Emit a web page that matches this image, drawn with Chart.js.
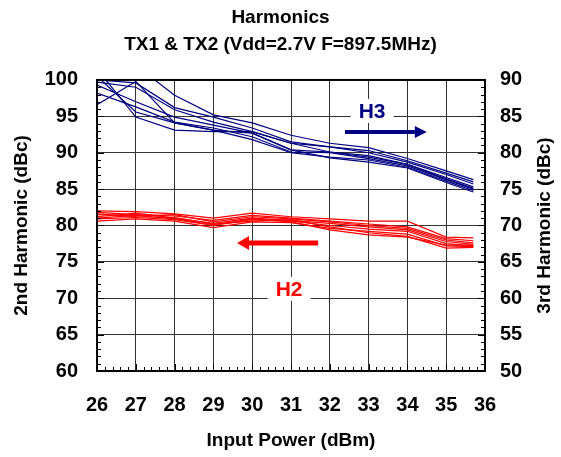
<!DOCTYPE html>
<html><head><meta charset="utf-8">
<script src="https://cdn.jsdelivr.net/npm/chart.js@4.4.0/dist/chart.umd.min.js"></script>
<style>html,body{margin:0;padding:0;background:#fff;}</style>
</head><body>
<canvas id="c" width="561" height="457"></canvas>
<script>
// ---- data ----
const inputPower = [26, 27, 28, 29, 30, 31, 32, 33, 34, 35, 35.7];

// 3rd harmonic (dBc), right axis
const h3a = [93.0, 92.0, 87.9, 85.2, 84.1, 82.4, 81.3, 80.7, 79.2, 77.5, 76.3];
const h3b = [90.0, 89.6, 86.2, 84.9, 83.4, 81.5, 80.8, 80.3, 78.9, 77.2, 76.0];
const h3c = [89.7, 89.0, 85.9, 84.2, 82.9, 81.3, 80.8, 80.0, 78.7, 77.0, 75.7];
const h3d = [89.3, 87.0, 84.9, 83.8, 82.7, 80.4, 80.1, 79.6, 78.4, 76.6, 75.3];
const h3e = [88.2, 86.3, 84.2, 83.4, 82.2, 80.1, 80.0, 79.2, 78.2, 76.3, 75.0];
const h3f = [86.6, 89.8, 84.1, 83.1, 81.8, 80.0, 79.4, 79.0, 78.0, 76.1, 74.8];
const h3g = [90.5, 85.6, 84.1, 83.1, 82.7, 80.4, 79.3, 78.7, 77.9, 75.9, 74.6];
const h3h = [91.5, 84.9, 83.1, 82.9, 82.9, 81.3, 80.1, 79.4, 78.4, 76.4, 75.1];

// 2nd harmonic (dBc), left axis
const h2a = [82.0, 81.9, 81.6, 81.0, 81.7, 81.2, 80.9, 80.6, 80.6, 78.4, 78.3];
const h2b = [81.8, 81.5, 81.3, 80.7, 81.4, 81.0, 80.6, 80.2, 79.8, 78.2, 77.9];
const h2c = [81.5, 81.3, 81.5, 80.5, 81.2, 80.9, 80.5, 80.0, 79.6, 78.0, 77.6];
const h2d = [81.2, 81.7, 81.0, 80.3, 81.0, 80.7, 80.3, 79.8, 79.4, 77.8, 77.4];
const h2e = [80.9, 81.1, 80.8, 80.0, 80.8, 80.6, 80.0, 79.5, 79.2, 77.5, 77.2];
const h2f = [80.6, 80.9, 80.6, 79.7, 80.5, 80.4, 79.6, 79.2, 78.8, 77.2, 77.1];
const h2g = [81.6, 81.2, 81.1, 80.2, 80.6, 80.8, 79.8, 79.0, 78.5, 76.9, 77.0];
const h2h = [81.0, 81.4, 80.9, 80.1, 80.9, 80.5, 79.4, 78.7, 78.4, 77.3, 77.3];

const h3Series = [h3a, h3b, h3c, h3d, h3e, h3f, h3g, h3h];
const h2Series = [h2a, h2b, h2c, h2d, h2e, h2f, h2g, h2h];

const titleLines = ['Harmonics', 'TX1 & TX2 (Vdd=2.7V F=897.5MHz)'];
const xTitle = 'Input Power (dBm)';
const yLeftTitle = '2nd Harmonic (dBc)';
const yRightTitle = '3rd Harmonic (dBc)';

// annotation labels & arrows (in left-axis data units)
const noteLabels = [
  {text: 'H3', x: 33.09, y: 95.74, color: '#000080'},
  {text: 'H2', x: 30.95, y: 71.3, color: '#ff0000'}
];
const noteArrows = [
  {x0: 32.39, x1: 34.5, y: 92.86, color: '#000080', width: 4, head: 12, half: 6},
  {x0: 31.7, x1: 29.61, y: 77.6, color: '#ff0000', width: 5, head: 12, half: 7}
];

const FONT = '"Liberation Sans", Arial, sans-serif';
const BLUE = '#000080', RED = '#ff0000';

const datasets = [];
h3Series.forEach((s, i) => datasets.push({
  label: 'H3-' + (i + 1), yAxisID: 'y2',
  data: s.map((v, k) => ({x: inputPower[k], y: v})),
  borderColor: BLUE, borderWidth: 1.2, pointRadius: 0, tension: 0, fill: false
}));
h2Series.forEach((s, i) => datasets.push({
  label: 'H2-' + (i + 1), yAxisID: 'y',
  data: s.map((v, k) => ({x: inputPower[k], y: v})),
  borderColor: RED, borderWidth: 1.2, pointRadius: 0, tension: 0, fill: false
}));

const decor = {
  id: 'decor',
  afterDatasetsDraw(chart) {
    const ctx = chart.ctx, a = chart.chartArea;
    const xs = chart.scales.x, yl = chart.scales.y, yr = chart.scales.y2;
    ctx.save();
    ctx.strokeStyle = '#000';
    ctx.lineWidth = 1;
    ctx.beginPath();
    for (let v = 60; v <= 100; v++) {
      const p = Math.round(yl.getPixelForValue(v)) + 0.5;
      const len = v % 5 === 0 ? 7 : 4;
      ctx.moveTo(a.left, p); ctx.lineTo(a.left + len, p);
    }
    for (let v = 50; v <= 90; v++) {
      const p = Math.round(yr.getPixelForValue(v)) + 0.5;
      const len = v % 5 === 0 ? 7 : 4;
      ctx.moveTo(a.right, p); ctx.lineTo(a.right - len, p);
    }
    for (let i = 0; i <= 50; i++) {
      const v = 26 + i * 0.2;
      const p = Math.round(xs.getPixelForValue(v)) + 0.5;
      const len = i % 5 === 0 ? 7 : 4;
      ctx.moveTo(p, a.bottom); ctx.lineTo(p, a.bottom - len);
    }
    ctx.stroke();
    // frame
    ctx.lineWidth = 2;
    ctx.strokeRect(a.left, a.top, a.right - a.left, a.bottom - a.top);

    // arrows
    noteArrows.forEach(ar => {
      const px0 = xs.getPixelForValue(ar.x0), px1 = xs.getPixelForValue(ar.x1);
      const py = yl.getPixelForValue(ar.y);
      const dir = px1 > px0 ? 1 : -1;
      const hb = px1 - dir * ar.head;
      ctx.strokeStyle = ar.color; ctx.fillStyle = ar.color;
      ctx.lineWidth = ar.width;
      ctx.beginPath(); ctx.moveTo(px0, py); ctx.lineTo(hb, py); ctx.stroke();
      ctx.beginPath(); ctx.moveTo(px1, py); ctx.lineTo(hb, py - ar.half); ctx.lineTo(hb, py + ar.half); ctx.closePath(); ctx.fill();
    });
    // labels with white box
    ctx.font = 'bold 21px ' + FONT;
    ctx.textAlign = 'center'; ctx.textBaseline = 'middle';
    noteLabels.forEach(n => {
      const px = xs.getPixelForValue(n.x), py = yl.getPixelForValue(n.y);
      const w = ctx.measureText(n.text).width;
      ctx.fillStyle = '#fff';
      ctx.fillRect(px - w / 2 - 8, py - 12, w + 16, 24);
      ctx.fillStyle = n.color;
      ctx.fillText(n.text, px, py + 1);
    });
    ctx.restore();
  },
  afterDraw(chart) {
    const ctx = chart.ctx, a = chart.chartArea;
    ctx.save();
    ctx.font = 'bold 19px ' + FONT;
    ctx.fillStyle = '#000';
    ctx.textAlign = 'center'; ctx.textBaseline = 'middle';
    ctx.translate(545, (a.top + a.bottom) / 2);
    ctx.rotate(-Math.PI / 2);
    ctx.fillText(yRightTitle, 0, 0);
    ctx.restore();
  }
};

new Chart(document.getElementById('c'), {
  type: 'line',
  data: {datasets},
  options: {
    responsive: false, animation: false, devicePixelRatio: 1,
    layout: {padding: 0},
    plugins: {
      legend: {display: false}, tooltip: {enabled: false},
      title: {display: true, text: titleLines, color: '#000',
        font: {family: FONT, size: 19, weight: 'bold', lineHeight: 1.42},
        padding: {top: 4, bottom: 22}}
    },
    scales: {
      x: {type: 'linear', min: 26, max: 36,
        afterFit(s) { s.height = 86; },
        ticks: {stepSize: 1, color: '#000', padding: 22, font: {family: FONT, size: 20, weight: 'bold'}},
        grid: {color: '#333', lineWidth: 1, drawTicks: false},
        border: {display: false},
        title: {display: true, text: xTitle, color: '#000', padding: {top: 0, bottom: 5},
          font: {family: FONT, size: 19, weight: 'bold'}}
      },
      y: {type: 'linear', position: 'left', min: 60, max: 100,
        afterFit(s) { s.width = 97; },
        ticks: {stepSize: 5, color: '#000', padding: 19, font: {family: FONT, size: 20, weight: 'bold'}},
        grid: {color: '#333', lineWidth: 1, drawTicks: false},
        border: {display: false},
        title: {display: true, text: yLeftTitle, color: '#000', padding: {top: 10, bottom: 0},
          font: {family: FONT, size: 19, weight: 'bold'}}
      },
      y2: {type: 'linear', position: 'right', min: 50, max: 90,
        afterFit(s) { s.width = 76; },
        ticks: {stepSize: 5, color: '#000', padding: 15, font: {family: FONT, size: 20, weight: 'bold'}},
        grid: {drawOnChartArea: false, drawTicks: false},
        border: {display: false}
      }
    }
  },
  plugins: [decor]
});
</script>
</body></html>
